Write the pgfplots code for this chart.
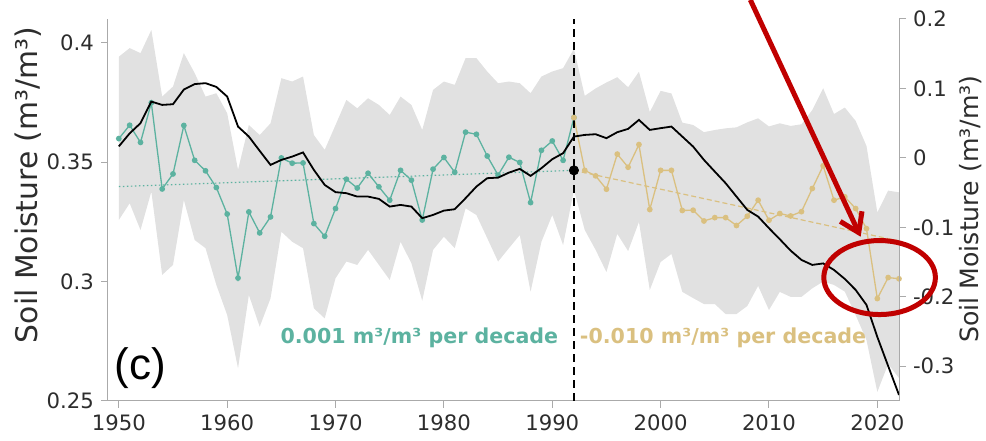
\documentclass[border=0pt]{standalone}
\usepackage{pgfplots}
\pgfplotsset{compat=1.18}
\usepackage{pgfplotstable}
\usepgfplotslibrary{fillbetween}
\usetikzlibrary{arrows.meta}
\usepackage{fontspec}
\setmainfont{DejaVu Sans}
\newfontfamily\panelfont{Liberation Sans}

\definecolor{smteal}{RGB}{92,178,160}
\definecolor{smtan}{RGB}{218,192,128}
\definecolor{bandgrey}{RGB}{225,225,225}
\definecolor{spinegrey}{RGB}{170,170,170}
\definecolor{ticktext}{RGB}{45,45,45}
\definecolor{annred}{RGB}{192,0,0}

% ensemble spread (lower / upper bound)
\pgfplotstableread{
year lo hi
1950 0.3258 0.3942
1951 0.3328 0.3978
1952 0.3216 0.3957
1953 0.3377 0.4054
1954 0.3028 0.3775
1955 0.3070 0.3817
1956 0.3342 0.3957
1957 0.3174 0.3873
1958 0.3140 0.3775
1959 0.2986 0.3789
1960 0.2860 0.3705
1961 0.2637 0.3468
1962 0.2944 0.3656
1963 0.2811 0.3614
1964 0.2930 0.3663
1965 0.3209 0.3852
1966 0.3167 0.3838
1967 0.3140 0.3859
1968 0.2888 0.3614
1969 0.2846 0.3552
1970 0.3014 0.3656
1971 0.3084 0.3761
1972 0.3070 0.3726
1973 0.3133 0.3768
1974 0.3070 0.3740
1975 0.3007 0.3698
1976 0.3167 0.3775
1977 0.3077 0.3740
1978 0.2920 0.3635
1979 0.3133 0.3803
1980 0.3188 0.3838
1981 0.3140 0.3824
1982 0.3307 0.3936
1983 0.3279 0.3936
1984 0.3182 0.3880
1985 0.3084 0.3831
1986 0.3140 0.3838
1987 0.3195 0.3831
1988 0.2958 0.3789
1989 0.3167 0.3859
1990 0.3279 0.3880
1991 0.3153 0.3894
1992 0.3384 0.3975
1993 0.3216 0.3778
1994 0.3133 0.3809
1995 0.3040 0.3834
1996 0.3200 0.3856
1997 0.3128 0.3814
1998 0.3250 0.3879
1999 0.2965 0.3710
2000 0.3082 0.3799
2001 0.3116 0.3788
2002 0.2957 0.3666
2003 0.2931 0.3656
2004 0.2906 0.3626
2005 0.2906 0.3635
2006 0.2864 0.3642
2007 0.2864 0.3646
2008 0.2898 0.3667
2009 0.2982 0.3684
2010 0.2881 0.3650
2011 0.2957 0.3663
2012 0.2936 0.3652
2013 0.2936 0.3659
2014 0.2972 0.3719
2015 0.3000 0.3810
2016 0.2986 0.3702
2017 0.2958 0.3729
2018 0.2860 0.3673
2019 0.2755 0.3568
2020 0.2538 0.3290
2021 0.2655 0.3381
2022 0.2596 0.3374
}\spread

% annual soil moisture, 1950-1992
\pgfplotstableread{
year sm
1950 0.3599
1951 0.3655
1952 0.3583
1953 0.3749
1954 0.3388
1955 0.3451
1956 0.3654
1957 0.3508
1958 0.3464
1959 0.3394
1960 0.3283
1961 0.3015
1962 0.3292
1963 0.3204
1964 0.3271
1965 0.3518
1966 0.3496
1967 0.3497
1968 0.3243
1969 0.3190
1970 0.3306
1971 0.3429
1972 0.3392
1973 0.3454
1974 0.3397
1975 0.3341
1976 0.3466
1977 0.3425
1978 0.3258
1979 0.3471
1980 0.3520
1981 0.3458
1982 0.3626
1983 0.3617
1984 0.3526
1985 0.3446
1986 0.3521
1987 0.3499
1988 0.3331
1989 0.3550
1990 0.3589
1991 0.3508
1992 0.3687
}\early

% annual soil moisture, 1992-2022
\pgfplotstableread{
year sm
1992 0.3687
1993 0.3466
1994 0.3443
1995 0.3387
1996 0.3534
1997 0.3479
1998 0.3574
1999 0.3302
2000 0.3466
2001 0.3466
2002 0.3298
2003 0.3299
2004 0.3254
2005 0.3268
2006 0.3268
2007 0.3235
2008 0.3274
2009 0.3341
2010 0.3257
2011 0.3285
2012 0.3275
2013 0.3293
2014 0.3390
2015 0.3485
2016 0.3341
2017 0.3355
2018 0.3306
2019 0.3222
2020 0.2929
2021 0.3017
2022 0.3012
}\late

% smoothed anomaly (right axis)
\pgfplotstableread{
year anom
1950 0.0166
1951 0.0353
1952 0.0500
1953 0.0811
1954 0.0763
1955 0.0773
1956 0.0984
1957 0.1063
1958 0.1076
1959 0.1022
1960 0.0883
1961 0.0451
1962 0.0307
1963 0.0101
1964 -0.0101
1965 -0.0029
1966 0.0019
1967 0.0079
1968 -0.0173
1969 -0.0389
1970 -0.0493
1971 -0.0508
1972 -0.0557
1973 -0.0557
1974 -0.0590
1975 -0.0701
1976 -0.0677
1977 -0.0701
1978 -0.0868
1979 -0.0821
1980 -0.0759
1981 -0.0739
1982 -0.0580
1983 -0.0413
1984 -0.0292
1985 -0.0284
1986 -0.0212
1987 -0.0158
1988 -0.0259
1989 -0.0148
1990 -0.0019
1991 0.0068
1992 0.0307
1993 0.0331
1994 0.0341
1995 0.0284
1996 0.0370
1997 0.0418
1998 0.0547
1999 0.0403
2000 0.0428
2001 0.0451
2002 0.0307
2003 0.0163
2004 -0.0029
2005 -0.0197
2006 -0.0364
2007 -0.0557
2008 -0.0749
2009 -0.0845
2010 -0.1012
2011 -0.1171
2012 -0.1335
2013 -0.1469
2014 -0.1541
2015 -0.1519
2016 -0.1613
2017 -0.1743
2018 -0.1901
2019 -0.2117
2020 -0.2578
2021 -0.2997
2022 -0.3413
}\anomaly

\begin{document}
\begin{tikzpicture}
\pgfplotsset{
  smbase/.style={
    scale only axis, width=395.5pt, height=191pt,
    xmin=1949, xmax=2022,
    axis line style={spinegrey, line width=0.5pt},
    tick style={spinegrey, line width=0.5pt},
    tick align=outside,
    major tick length=3.5pt,
    ticklabel style={font=\fontsize{10.6}{12}\selectfont, text=ticktext},
    /pgf/number format/assume math mode=true,
  }
}
\begin{axis}[smbase,
  axis x line*=bottom, axis y line*=left,
  ymin=0.25, ymax=0.41,
  ytick={0.25,0.3,0.35,0.4},
  xtick={1950,1960,1970,1980,1990,2000,2010,2020},
  x tick label style={/pgf/number format/set thousands separator={}},
  y tick label style={/pgf/number format/fixed, /pgf/number format/precision=2},
  ylabel={Soil Moisture (m³/m³)},
  ylabel style={at={(axis description cs:-0.1011,0.5654)}, anchor=center,
    font=\fontsize{14.9}{16}\selectfont, text=ticktext},
  clip=false,
]
\addplot[draw=none, name path=bandhi] table[x=year, y=hi] {\spread};
\addplot[draw=none, name path=bandlo] table[x=year, y=lo] {\spread};
\addplot[bandgrey, draw=none] fill between[of=bandhi and bandlo];

% linear trends of the two periods
\addplot[smteal, line width=0.6pt, dash pattern=on 0.8pt off 1.2pt]
  coordinates {(1950,0.3398) (1992,0.3466)};
\addplot[smtan, line width=0.6pt, dash pattern=on 2.5pt off 1.5pt]
  coordinates {(1992,0.3466) (2022,0.3170)};

\addplot[smteal, line width=0.65pt, mark=*, mark size=1.1pt,
  mark options={fill=smteal, draw=smteal}] table[x=year, y=sm] {\early};
\addplot[smtan, line width=0.65pt, mark=*, mark size=1.1pt,
  mark options={fill=smtan, draw=smtan}] table[x=year, y=sm] {\late};

% breakpoint
\addplot[black, line width=0.8pt, dash pattern=on 4pt off 2.5pt]
  coordinates {(1992,0.25) (1992,0.41)};
\addplot[black, only marks, mark=*, mark size=2.3pt] coordinates {(1992,0.3466)};

\node[anchor=east, inner sep=0pt, text=smteal, font=\bfseries\fontsize{10.3}{12}\selectfont]
  at (axis cs:1990.58,0.2764) {0.001 m³/m³ per decade};
\node[anchor=west, inner sep=0pt, text=smtan, font=\bfseries\fontsize{10.3}{12}\selectfont]
  at (axis cs:1992.52,0.2764) {-0.010 m³/m³ per decade};
\node[inner sep=0pt, font=\panelfont\fontsize{22}{24}\selectfont]
  at (axis cs:1951.96,0.2638) {(c)};

\coordinate (arrowtail) at (axis cs:2008.28,0.4180);
\coordinate (arrowtip) at (axis cs:2018.46,0.3188);
\coordinate (ringc) at (axis cs:2020.21,0.3017);
\coordinate (boxll) at (rel axis cs:0,0);
\coordinate (boxur) at (rel axis cs:1,1);
\end{axis}

\begin{axis}[smbase,
  axis x line=none, axis y line*=right,
  ymin=-0.35, ymax=0.2,
  ytick={-0.3,-0.2,-0.1,0,0.1,0.2},
  y tick label style={/pgf/number format/fixed, /pgf/number format/precision=1},
  ylabel={Soil Moisture (m³/m³)},
  ylabel style={at={(axis description cs:1.0907,0.5026)}, anchor=center,
    font=\fontsize{12.6}{14}\selectfont, text=ticktext},
]
\addplot[black, line width=0.9pt] table[x=year, y=anom] {\anomaly};
\end{axis}

% highlight of the recent decline
\draw[annred, line width=2.5pt, -{Straight Barb[length=9pt, width=12pt]}]
  (arrowtail) -- (arrowtip);
\draw[annred, line width=2.5pt] (ringc) ellipse [x radius=27.9pt, y radius=18.5pt];

\path (boxll) ++(-54pt,-20pt) coordinate (bba);
\path (boxur) ++(43.5pt,9.5pt) coordinate (bbb);
\pgfresetboundingbox
\useasboundingbox (bba) rectangle (bbb);
\end{tikzpicture}
\end{document}
